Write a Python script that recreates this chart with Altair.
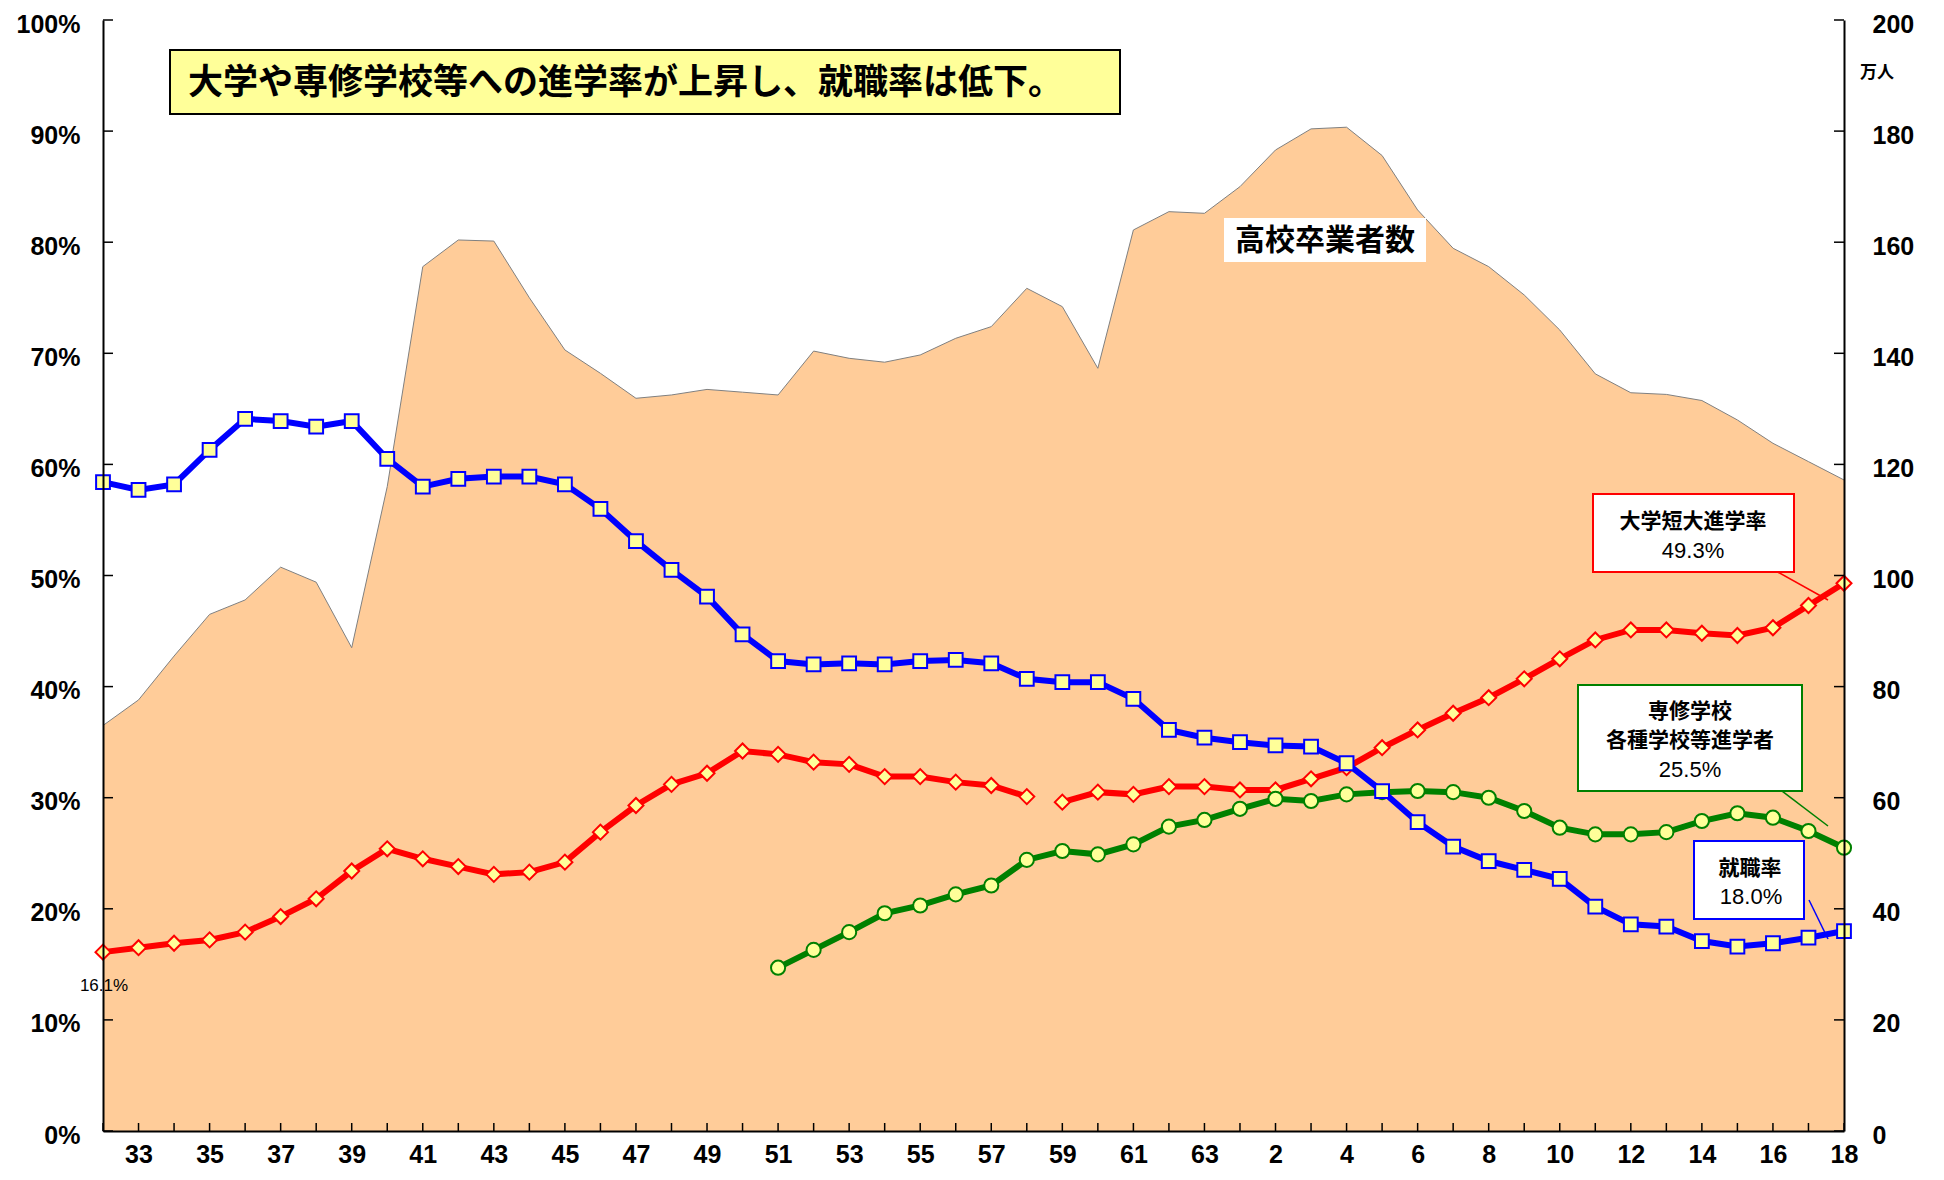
import altair as alt
import pandas as pd

# ---------------- data ----------------
years = ["32", "33", "34", "35", "36", "37", "38", "39", "40", "41",
         "42", "43", "44", "45", "46", "47", "48", "49", "50", "51",
         "52", "53", "54", "55", "56", "57", "58", "59", "60", "61",
         "62", "63", "元", "2", "3", "4", "5", "6", "7", "8",
         "9", "10", "11", "12", "13", "14", "15", "16", "17", "18"]
tick_labels = ["33", "35", "37", "39", "41", "43", "45", "47", "49", "51",
               "53", "55", "57", "59", "61", "63", "2", "4", "6", "8",
               "10", "12", "14", "16", "18"]

# high-school graduates (10,000 persons)
graduates = [73.0, 77.6, 85.5, 93.0, 95.6, 101.5, 98.8, 87.0, 116.0, 155.6,
             160.4, 160.2, 150.0, 140.6, 136.4, 131.9, 132.5, 133.5, 133.0, 132.5,
             140.4, 139.1, 138.4, 139.7, 142.7, 144.8, 151.7, 148.4, 137.3, 162.2,
             165.5, 165.2, 170.0, 176.6, 180.4, 180.7, 175.6, 165.8, 158.9, 155.6,
             150.5, 144.2, 136.3, 132.9, 132.6, 131.5, 128.0, 123.8, 120.5, 117.2]

# employment rate (%)
employment = [58.4, 57.7, 58.2, 61.3, 64.1, 63.9, 63.4, 63.9, 60.5, 58.0,
              58.7, 58.9, 58.9, 58.2, 56.0, 53.1, 50.5, 48.1, 44.7, 42.3,
              42.0, 42.1, 42.0, 42.3, 42.4, 42.1, 40.7, 40.4, 40.4, 38.9,
              36.1, 35.4, 35.0, 34.7, 34.6, 33.1, 30.6, 27.8, 25.6, 24.3,
              23.5, 22.7, 20.2, 18.6, 18.4, 17.1, 16.6, 16.9, 17.4, 18.0]

# university / junior college entrance rate (%)
univ = [16.1, 16.5, 16.9, 17.2, 17.9, 19.3, 20.9, 23.4, 25.4, 24.5,
        23.8, 23.1, 23.3, 24.2, 26.9, 29.3, 31.2, 32.2, 34.2, 33.9,
        33.2, 33.0, 31.9, 31.9, 31.4, 31.1, 30.1, 29.6, 30.5, 30.3,
        31.0, 31.0, 30.7, 30.7, 31.7, 32.7, 34.5, 36.1, 37.6, 39.0,
        40.7, 42.5, 44.2, 45.1, 45.1, 44.8, 44.6, 45.3, 47.3, 49.3]
univ_break_after = "58"

# specialized training college etc. entrance rate (%), from S51
senshu_years = years[19:]
senshu = [14.7, 16.3, 17.9, 19.6, 20.3, 21.3, 22.1, 24.4, 25.2, 24.9,
          25.8, 27.4, 28.0, 29.0, 29.9, 29.7, 30.3, 30.5, 30.6, 30.5,
          30.0, 28.8, 27.3, 26.7, 26.7, 26.9, 27.9, 28.6, 28.2, 27.0,
          25.5]

pct_ticks = [0, 10, 20, 30, 40, 50, 60, 70, 80, 90, 100]
num_ticks = [0, 20, 40, 60, 80, 100, 120, 140, 160, 180, 200]

# ---------------- tables ----------------
idx = list(range(len(years)))
brk = years.index(univ_break_after)
df_grad = pd.DataFrame({"year": years, "grad": graduates, "idx": idx})
df_emp = pd.DataFrame({"year": years, "v": employment, "idx": idx})
df_univ = pd.DataFrame({"year": years, "v": univ, "idx": idx,
                        "seg": [0 if i <= brk else 1 for i in idx]})
df_sen = pd.DataFrame({"year": senshu_years, "v": senshu,
                       "idx": list(range(len(senshu_years)))})
df_pticks = pd.DataFrame({"v": pct_ticks})
df_xticks = pd.DataFrame({"year": years})
one = alt.Data(values=[{"a": 1}])

W, H = 1741, 1111
NUM_FONT = "Liberation Sans, Arial, sans-serif"
JP_FONT = "Noto Sans CJK JP, sans-serif"

x_axis = alt.Axis(values=tick_labels, labelAngle=0, ticks=False, tickSize=0,
                  domainColor="black", domainWidth=2, labelFont=NUM_FONT,
                  labelFontSize=25, labelFontWeight="bold", labelColor="black",
                  labelPadding=11, labelFlush=False, labelOverlap=False,
                  grid=False, zindex=1, title=None)
left_axis = alt.Axis(values=pct_ticks, labelExpr="datum.value + '%'", ticks=False,
                     tickSize=0, domainColor="black", domainWidth=2,
                     labelFont=NUM_FONT, labelFontSize=25, labelFontWeight="bold",
                     labelColor="black", labelPadding=23, labelOffset=4,
                     labelFlush=False, grid=False, zindex=1, title=None)
right_axis = alt.Axis(values=num_ticks, orient="right", ticks=False, tickSize=0,
                      domainColor="black", domainWidth=2, labelFont=NUM_FONT,
                      labelFontSize=25, labelFontWeight="bold", labelColor="black",
                      labelPadding=28, labelOffset=4, labelFlush=False, grid=False,
                      zindex=1, title=None)

x_enc = alt.X("year:O", sort=years,
              scale=alt.Scale(type="point", domain=years, padding=0), axis=x_axis)
y_pct = alt.Y("v:Q", scale=alt.Scale(domain=[0, 100], nice=False), axis=left_axis)

# ---------------- area: graduates ----------------
area = alt.Chart(df_grad).mark_area(
    color="#FFCC99", fillOpacity=1,
    line={"color": "#808080", "strokeWidth": 1}
).encode(
    x=x_enc,
    y=alt.Y("grad:Q", stack=None,
            scale=alt.Scale(domain=[0, 200], nice=False), axis=right_axis),
)

MARK_FILL = "#FFFF99"


def series(df, color, shape, size, detail=None):
    enc = dict(x=x_enc, y=y_pct, order=alt.Order("idx:Q"))
    if detail:
        enc["detail"] = detail
    line = alt.Chart(df).mark_line(color=color, strokeWidth=6).encode(**enc)
    pts = alt.Chart(df).mark_point(
        shape=shape, size=size, filled=True, fill=MARK_FILL, stroke=color,
        strokeWidth=2, opacity=1
    ).encode(x=x_enc, y=y_pct)
    return [line, pts]


lt = alt.Chart(df_pticks).mark_rule(color="black", strokeWidth=1.5).encode(
    y=y_pct, x=alt.value(0), x2=alt.value(10))
rt = alt.Chart(df_pticks).mark_rule(color="black", strokeWidth=1.5).encode(
    y=y_pct, x=alt.value(W), x2=alt.value(W - 10))
bt = alt.Chart(df_xticks).mark_rule(color="black", strokeWidth=1.5).encode(
    x=x_enc, y=alt.value(H), y2=alt.value(H - 8))

pct_group = alt.layer(
    *series(df_univ, "#FF0000", "diamond", 225, detail="seg:N"),
    *series(df_sen, "#008000", "circle", 200),
    *series(df_emp, "#0000FF", "square", 190),
    lt, rt, bt,
)


# ---------------- annotations ----------------
def box(x1, x2, y1, y2, stroke, fill="white", sw=2):
    return alt.Chart(one).mark_rect(fill=fill, stroke=stroke, strokeWidth=sw).encode(
        x=alt.value(x1), x2=alt.value(x2), y=alt.value(y1), y2=alt.value(y2))


def label(txt, x, y, size, font=JP_FONT, weight="bold", align="center", color="black"):
    return alt.Chart(one).mark_text(
        text=txt, font=font, fontSize=size, fontWeight=weight, align=align,
        baseline="middle", color=color
    ).encode(x=alt.value(x), y=alt.value(y))


def leader(x1, y1, x2, y2, color):
    return alt.Chart(one).mark_rule(color=color, strokeWidth=1.5).encode(
        x=alt.value(x1), y=alt.value(y1), x2=alt.value(x2), y2=alt.value(y2))


notes = [
    box(67, 1017, 30, 94, "black", fill="#FFFF99"),
    label("大学や専修学校等への進学率が上昇し、就職率は低下。", 85, 63, 35, align="left"),
    box(1121, 1323, 198, 242, None, sw=0),
    label("高校卒業者数", 1222, 221, 30),
    label("万人", 1774, 53, 17),
    label("16.1%", 1, 966, 17, font=NUM_FONT, weight="normal"),
    leader(1671, 550, 1725, 580, "#FF0000"),
    box(1490, 1691, 474, 552, "#FF0000"),
    label("大学短大進学率", 1590, 502, 21),
    label("49.3%", 1590, 531, 22, font=NUM_FONT, weight="normal"),
    leader(1671, 765, 1725, 806, "#008000"),
    box(1475, 1699, 665, 771, "#008000"),
    label("専修学校", 1587, 692, 21),
    label("各種学校等進学者", 1587, 721, 21),
    label("25.5%", 1587, 750, 22, font=NUM_FONT, weight="normal"),
    leader(1706, 880, 1725, 919, "#0000FF"),
    box(1591, 1701, 821, 899, "#0000FF"),
    label("就職率", 1647, 849, 21),
    label("18.0%", 1648, 877, 22, font=NUM_FONT, weight="normal"),
]

chart = alt.layer(area, pct_group, *notes).resolve_scale(y="independent").properties(
    width=W, height=H,
    autosize=alt.AutoSizeParams(type="none"),
    padding={"left": 95, "top": 12, "right": 90, "bottom": 41},
    background="white",
).configure_view(stroke=None)

chart.save("out.html", embed_options={"renderer": "svg", "actions": False})
